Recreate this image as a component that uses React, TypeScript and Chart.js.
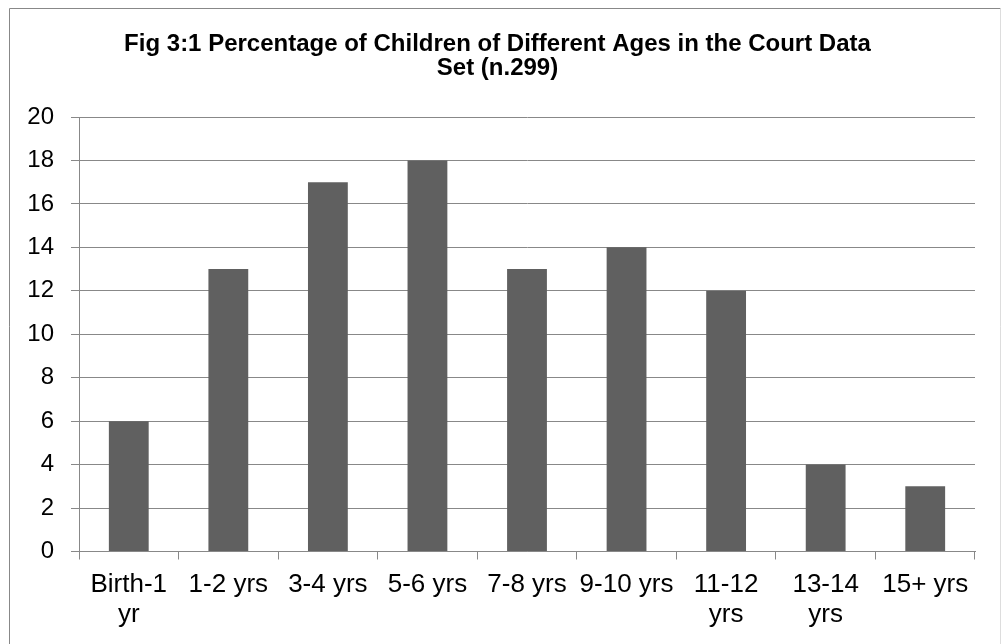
import React, { useEffect, useRef } from "react";
import { Chart, registerables } from "chart.js";

Chart.register(...registerables);

const categories: (string | string[])[] = [
  ["Birth-1", "yr"],
  "1-2 yrs",
  "3-4 yrs",
  "5-6 yrs",
  "7-8 yrs",
  "9-10 yrs",
  ["11-12", "yrs"],
  ["13-14", "yrs"],
  "15+ yrs",
];
const percentages = [6, 13, 17, 18, 13, 14, 12, 4, 3];
const titleLines = [
  "Fig 3:1 Percentage of Children of Different Ages in the Court Data",
  "Set (n.299)",
];
const yMin = 0;
const yMax = 20;
const yStep = 2;

const FONT = "'Liberation Sans', Arial, sans-serif";

const framePlugin = {
  id: "frame",
  beforeDraw(chart: any) {
    const ctx = chart.ctx;
    ctx.save();
    ctx.fillStyle = "#ffffff";
    ctx.fillRect(0, 0, chart.width, chart.height);
    ctx.lineWidth = 1;
    ctx.strokeStyle = "#888888";
    ctx.beginPath();
    ctx.moveTo(9.5, chart.height + 5);
    ctx.lineTo(9.5, 8.5);
    ctx.lineTo(1000.5, 8.5);
    ctx.stroke();
    ctx.strokeStyle = "#dddddd";
    ctx.beginPath();
    ctx.moveTo(1000.5, 8.5);
    ctx.lineTo(1000.5, chart.height + 5);
    ctx.stroke();
    ctx.restore();
  },
};

export default function App() {
  const ref = useRef<HTMLCanvasElement | null>(null);
  useEffect(() => {
    if (!ref.current) return;
    const chart = new Chart(ref.current, {
      type: "bar",
      data: {
        labels: categories,
        datasets: [
          {
            data: percentages,
            backgroundColor: "#606060",
            borderWidth: 0,
            barPercentage: 0.4,
            categoryPercentage: 1,
          },
        ],
      },
      options: {
        animation: false,
        responsive: false,
        maintainAspectRatio: false,
        layout: { padding: { left: 20, right: 28, top: 0, bottom: 0 } },
        plugins: {
          legend: { display: false },
          tooltip: { enabled: false },
          title: {
            display: true,
            text: titleLines,
            color: "#000000",
            font: { family: FONT, size: 24, weight: "bold", lineHeight: 1.0 },
            padding: { top: 32, bottom: 37 },
          },
        },
        scales: {
          x: {
            afterFit(scale: any) {
              scale.height = 92.5;
            },
            grid: {
              offset: true,
              drawOnChartArea: false,
              drawTicks: true,
              tickLength: 8,
              color: "#888888",
            },
            border: { display: true, color: "#888888" },
            ticks: {
              color: "#000000",
              font: { family: FONT, size: 26, lineHeight: 1.15 },
              padding: 10,
              maxRotation: 0,
              autoSkip: false,
            },
          },
          y: {
            min: yMin,
            max: yMax,
            afterFit(scale: any) {
              scale.width = 59;
            },
            grid: {
              color: "#888888",
              tickLength: 8,
              drawTicks: true,
            },
            border: { display: true, color: "#888888" },
            ticks: {
              stepSize: yStep,
              color: "#000000",
              font: { family: FONT, size: 24 },
              padding: 17,
            },
          },
        },
      },
      plugins: [framePlugin],
    });
    return () => chart.destroy();
  }, []);
  return (
    <div
      style={{
        position: "fixed",
        left: 0,
        top: 0,
        width: 1003,
        height: 644,
        overflow: "hidden",
        background: "#fff",
      }}
    >
      <canvas ref={ref} width={1003} height={644} style={{ display: "block" }} />
    </div>
  );
}
